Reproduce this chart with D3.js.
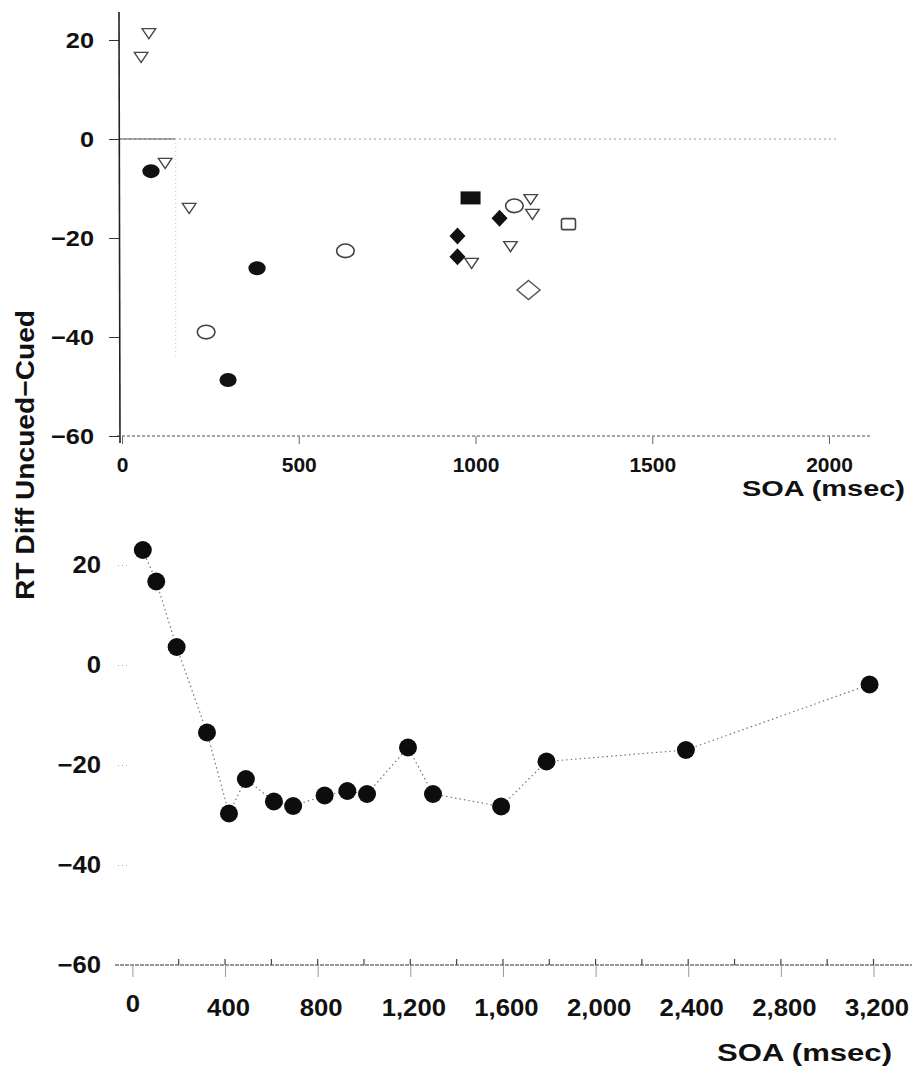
<!DOCTYPE html>
<html>
<head>
<meta charset="utf-8">
<script src="https://cdn.jsdelivr.net/npm/d3@7"></script>
<style>
  html, body { margin: 0; padding: 0; background: #fff; }
  svg { display: block; }
  text { font-family: "Liberation Sans", Arial, sans-serif; font-weight: bold; fill: #111; }
</style>
</head>
<body>
<div id="chart"></div>
<script>
// top panel: RT difference per study, grouped by marker shape  [SOA, RT diff]
const openTriangles = [[54, 16.8], [76, 21.6], [122, -4.6], [190, -13.7], [989, -24.8], [1099, -21.4], [1156, -11.9], [1161, -14.9]];
const filledCircles = [[82, -6.5], [300, -48.7], [382, -26.1]];
const openCircles = [[238, -39], [632, -22.6], [1110, -13.5]];
const filledSquares = [[986, -11.9]];
const filledDiamonds = [[949, -19.6], [949, -23.8], [1068, -16]];
const openSquares = [[1263, -17.2]];
const openDiamonds = [[1150, -30.5]];
const topXTicks = [0, 500, 1000, 1500, 2000];
const yTicks = [20, 0, -20, -40, -60];

// bottom panel: pooled curve
const soaPooled = [45, 103, 191, 322, 417, 490, 611, 694, 830, 928, 1013, 1190, 1298, 1592, 1788, 2390, 3183];
const rtPooled = [23.0, 16.7, 3.6, -13.5, -29.7, -22.8, -27.3, -28.2, -26.1, -25.2, -25.8, -16.5, -25.8, -28.3, -19.3, -17.0, -3.9];
const bottomXTicks = [0, 400, 800, 1200, 1600, 2000, 2400, 2800, 3200];

const W = 912, H = 1069;
const svg = d3.select("#chart").append("svg").attr("width", W).attr("height", H);

const fmtY = d => d < 0 ? "\u2212" + Math.abs(d) : String(d);
// the scan is a bit stretched sideways, so widen labels a touch
function widen(sel, f) {
  sel.each(function () {
    const w = this.getComputedTextLength();
    d3.select(this).attr("textLength", w * f).attr("lengthAdjust", "spacingAndGlyphs");
  });
}

// ---------- top panel ----------
const xTop = d3.scaleLinear().domain([0, 2000]).range([122, 829]);
const yTop = d3.scaleLinear().domain([-60, 20]).range([436, 40]);
const topG = svg.append("g");

// zero reference line + dotted box edge
topG.append("line").attr("x1", 119).attr("x2", 838).attr("y1", yTop(0)).attr("y2", yTop(0))
  .attr("stroke", "#9a9a9a").attr("stroke-width", 1.2).attr("stroke-dasharray", "2,3");
topG.append("line").attr("x1", 119).attr("x2", xTop(150)).attr("y1", yTop(0)).attr("y2", yTop(0))
  .attr("stroke", "#555").attr("stroke-width", 1.2);
topG.append("line").attr("x1", xTop(152)).attr("x2", xTop(152)).attr("y1", yTop(0)).attr("y2", yTop(-44))
  .attr("stroke", "#c4c4c4").attr("stroke-width", 1).attr("stroke-dasharray", "1,3");

// x axis
const xAxTop = topG.append("g").attr("transform", `translate(0,${yTop(-60)})`)
  .call(d3.axisBottom(xTop).tickValues(topXTicks).tickSize(8).tickPadding(13).tickFormat(d3.format("d")));
xAxTop.select(".domain").remove();
xAxTop.selectAll("line").attr("stroke", "#666");
xAxTop.selectAll("text").style("font-size", "21px");
topG.append("line").attr("x1", 117).attr("x2", 870).attr("y1", yTop(-60)).attr("y2", yTop(-60))
  .attr("stroke", "#8a8a8a").attr("stroke-width", 1.3).attr("stroke-dasharray", "3,2");

// y axis
const yAxTop = topG.append("g").attr("transform", "translate(119,0)")
  .call(d3.axisLeft(yTop).tickValues(yTicks).tickSize(10).tickPadding(15).tickFormat(fmtY));
yAxTop.select(".domain").remove();
yAxTop.selectAll("line").attr("stroke", "#333");
yAxTop.selectAll("text").style("font-size", "22px").call(widen, 1.15);
topG.append("line").attr("x1", 119).attr("x2", 120).attr("y1", 12).attr("y2", 443)
  .attr("stroke", "#222").attr("stroke-width", 1.6);

topG.append("text").attr("x", 905).attr("y", 496).attr("text-anchor", "end")
  .attr("textLength", 163).attr("lengthAdjust", "spacingAndGlyphs")
  .style("font-size", "22px").text("SOA (msec)");

// markers
const tri = d3.symbol().type(d3.symbolTriangle).size(72);
topG.selectAll("path.tri").data(openTriangles).join("path").attr("class", "tri")
  .attr("d", tri)
  .attr("transform", d => `translate(${xTop(d[0])},${yTop(d[1])}) rotate(180) scale(1.05,0.9)`)
  .attr("fill", "#fff").attr("stroke", "#444").attr("stroke-width", 1.4);

topG.selectAll("ellipse.fc").data(filledCircles).join("ellipse").attr("class", "fc")
  .attr("cx", d => xTop(d[0])).attr("cy", d => yTop(d[1]))
  .attr("rx", 8.6).attr("ry", 7).attr("fill", "#111");

topG.selectAll("ellipse.oc").data(openCircles).join("ellipse").attr("class", "oc")
  .attr("cx", d => xTop(d[0])).attr("cy", d => yTop(d[1]))
  .attr("rx", 8.8).attr("ry", 6.8).attr("fill", "#fff").attr("stroke", "#444").attr("stroke-width", 1.6);

topG.selectAll("rect.fs").data(filledSquares).join("rect").attr("class", "fs")
  .attr("x", d => xTop(d[0]) - 10).attr("y", d => yTop(d[1]) - 6.5)
  .attr("width", 20).attr("height", 13).attr("fill", "#111");

topG.selectAll("rect.os").data(openSquares).join("rect").attr("class", "os")
  .attr("x", d => xTop(d[0]) - 7).attr("y", d => yTop(d[1]) - 5.5)
  .attr("width", 14).attr("height", 11).attr("rx", 2)
  .attr("fill", "#fff").attr("stroke", "#444").attr("stroke-width", 1.6);

const diamond = (cx, cy, hw, hh) => `M${cx},${cy - hh}L${cx + hw},${cy}L${cx},${cy + hh}L${cx - hw},${cy}Z`;
topG.selectAll("path.fd").data(filledDiamonds).join("path").attr("class", "fd")
  .attr("d", d => diamond(xTop(d[0]), yTop(d[1]), 8, 8.5)).attr("fill", "#111");
topG.selectAll("path.od").data(openDiamonds).join("path").attr("class", "od")
  .attr("d", d => diamond(xTop(d[0]), yTop(d[1]), 11.5, 9.5))
  .attr("fill", "#fff").attr("stroke", "#555").attr("stroke-width", 1.4);

// shared y title
svg.append("text").attr("transform", "translate(34,455) rotate(-90)").attr("text-anchor", "middle")
  .attr("textLength", 290).attr("lengthAdjust", "spacingAndGlyphs")
  .style("font-size", "26px").text("RT Diff Uncued\u2212Cued");

// ---------- bottom panel ----------
const xBot = d3.scaleLinear().domain([0, 3200]).range([132.4, 873.5]);
const yBot = d3.scaleLinear().domain([-60, 20]).range([965, 565]);
const botG = svg.append("g");

const yAxBot = botG.append("g").attr("transform", "translate(127,0)")
  .call(d3.axisLeft(yBot).tickValues(yTicks).tickSize(10).tickPadding(16).tickFormat(fmtY));
yAxBot.select(".domain").remove();
yAxBot.selectAll("line").attr("stroke", "#aaa").attr("stroke-dasharray", "1,3");
yAxBot.selectAll("text").style("font-size", "24px").call(widen, 1.07);

// x axis: minor ticks up, major ticks down
botG.append("line").attr("x1", 115).attr("x2", 912).attr("y1", yBot(-60)).attr("y2", yBot(-60))
  .attr("stroke", "#777").attr("stroke-width", 1.3).attr("stroke-dasharray", "4,1");
const minor = d3.range(200, 3400, 200);
botG.selectAll("line.minor").data(minor).join("line").attr("class", "minor")
  .attr("x1", d => xBot(d)).attr("x2", d => xBot(d))
  .attr("y1", yBot(-60)).attr("y2", yBot(-60) - 6)
  .attr("stroke", "#444").attr("stroke-width", 1.2);
const xAxBot = botG.append("g").attr("transform", `translate(0,${yBot(-60)})`)
  .call(d3.axisBottom(xBot).tickValues(bottomXTicks).tickSize(12).tickPadding(22).tickFormat(d3.format(",")));
xAxBot.select(".domain").remove();
xAxBot.selectAll("line").attr("stroke", "#999");
xAxBot.selectAll("text").style("font-size", "24px").call(widen, 1.07)
  .attr("transform", d => d === 0 ? "translate(0,-4)" : "translate(3,0)");

botG.append("text").attr("x", 892).attr("y", 1061).attr("text-anchor", "end")
  .attr("textLength", 175).attr("lengthAdjust", "spacingAndGlyphs")
  .style("font-size", "23px").text("SOA (msec)");

const pooled = soaPooled.map((s, i) => [s, rtPooled[i]]);
botG.append("path").datum(pooled)
  .attr("d", d3.line().x(d => xBot(d[0])).y(d => yBot(d[1])))
  .attr("fill", "none").attr("stroke", "#777").attr("stroke-width", 1.2).attr("stroke-dasharray", "1.5,3");
botG.selectAll("circle.pt").data(pooled).join("circle").attr("class", "pt")
  .attr("cx", d => xBot(d[0])).attr("cy", d => yBot(d[1]))
  .attr("r", 9).attr("fill", "#0d0d0d");
</script>
</body>
</html>
